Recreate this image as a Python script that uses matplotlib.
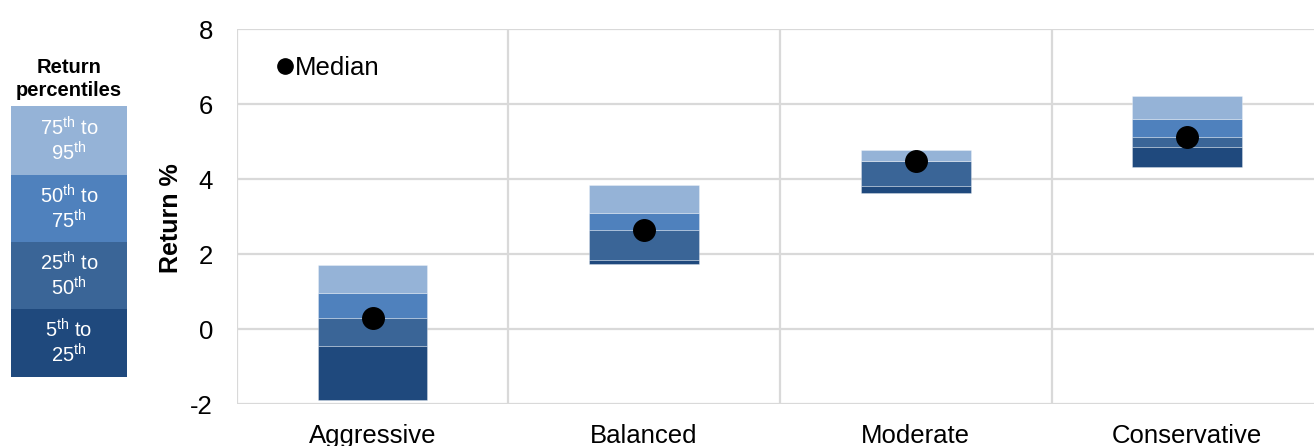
import matplotlib
matplotlib.use("Agg")
import matplotlib.pyplot as plt
from matplotlib.patches import Rectangle
from matplotlib.lines import Line2D

plt.rcParams['font.family'] = ['Liberation Sans', 'DejaVu Sans']
plt.rcParams['mathtext.fontset'] = 'custom'
plt.rcParams['mathtext.rm'] = 'Liberation Sans'
plt.rcParams['mathtext.it'] = 'Liberation Sans'

# Portfolio return distributions (percent)
portfolios = ["Aggressive", "Balanced", "Moderate", "Conservative"]
p5 = [-1.89, 1.74, 3.64, 4.33]
p25 = [-0.45, 1.86, 3.83, 4.86]
p50 = [0.30, 2.64, 4.50, 5.13]
p75 = [0.97, 3.11, 4.50, 5.60]
p95 = [1.71, 3.85, 4.77, 6.21]

band_labels = [r"5$^{\mathrm{th}}$ to" "\n" r"25$^{\mathrm{th}}$",
               r"25$^{\mathrm{th}}$ to" "\n" r"50$^{\mathrm{th}}$",
               r"50$^{\mathrm{th}}$ to" "\n" r"75$^{\mathrm{th}}$",
               r"75$^{\mathrm{th}}$ to" "\n" r"95$^{\mathrm{th}}$"]
band_colors = ["#1F497D", "#3A6597", "#4F81BD", "#95B3D7"]

yticks = [-2, 0, 2, 4, 6, 8]

W, H = 1314, 446
fig = plt.figure(figsize=(W / 100, H / 100), dpi=100)

left, right = 236.7, 236.7 + 4 * 271.6
top, bottom = 29.3, 404.3
ax = fig.add_axes([left / W, (H - bottom) / H, (right - left) / W, (bottom - top) / H])

x = range(len(portfolios))
bar_w = 0.405
bounds = [p5, p25, p50, p75, p95]
for k in range(4):
    lo = bounds[k]
    hi = bounds[k + 1]
    ax.bar(x, [h - l for h, l in zip(hi, lo)], bottom=lo, width=bar_w,
           color=band_colors[k], edgecolor=(1, 1, 1, 0.35), linewidth=0.6, zorder=3)

ax.plot(x, p50, linestyle="none", marker="o", markersize=15.5,
        color="black", zorder=5)

ax.set_xlim(-0.5, 3.5)
ax.set_ylim(-2, 8)
ax.set_yticks(yticks)
ax.set_yticklabels([str(v) for v in yticks])
ax.set_xticks(list(x))
ax.set_xticklabels(portfolios)
ax.set_xticks([-0.5, 0.5, 1.5, 2.5, 3.5], minor=True)

for s in ax.spines.values():
    s.set_visible(False)
ax.grid(axis="y", which="major", color="#D9D9D9", linewidth=1.6, zorder=0)
ax.grid(axis="x", which="minor", color="#D9D9D9", linewidth=1.6, zorder=0)
ax.grid(axis="x", which="major", visible=False)
ax.tick_params(axis="both", which="both", length=0, labelsize=18.5, colors="black")
ax.tick_params(axis="y", pad=17)
ax.tick_params(axis="x", pad=14)
ax.set_ylabel("Return %", fontsize=18, fontweight="bold")
ax.yaxis.set_label_coords(-0.049, 0.497)

# Median marker key
ax.legend(handles=[Line2D([], [], linestyle="none", marker="o", markersize=11,
                          color="black", label="Median")],
          loc="upper left", bbox_to_anchor=(0.023, 0.955), frameon=False,
          fontsize=18.5, handletextpad=-0.1, borderaxespad=0, handlelength=1.0)

# Percentile band key on the left
kx0, kx1 = 11, 127
edges = [376.7, 308.7, 242, 175, 106]
for k in range(4):
    y_lo = (H - edges[k]) / H
    y_hi = (H - edges[k + 1]) / H
    fig.add_artist(Rectangle((kx0 / W, y_lo), (kx1 - kx0) / W, y_hi - y_lo,
                             transform=fig.transFigure, facecolor=band_colors[k],
                             edgecolor="none"))
    fig.text((kx0 + kx1) / 2 / W, (y_lo + y_hi) / 2, band_labels[k],
             ha="center", va="center", color="white", fontsize=14.5,
             linespacing=1.1)
fig.text((kx0 + kx1) / 2 / W, (H - 79) / H, "Return\npercentiles",
         ha="center", va="center", fontsize=14.5, fontweight="bold",
         linespacing=1.25)

fig.savefig("out.png", dpi=100)
